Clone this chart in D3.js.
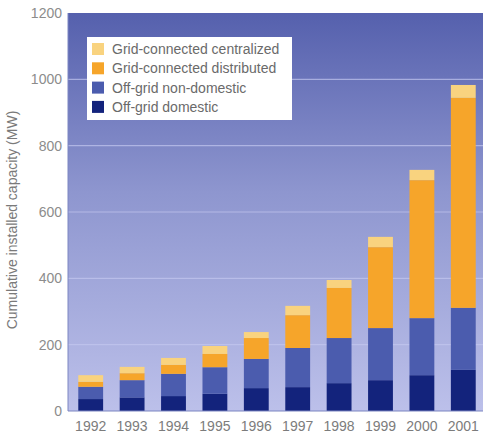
<!DOCTYPE html>
<html>
<head>
<meta charset="utf-8">
<script src="https://cdn.jsdelivr.net/npm/d3@7"></script>
<style>
  body { margin: 0; background: #fff; }
  svg { display: block; font-family: "Liberation Sans", Arial, sans-serif; }
</style>
</head>
<body>
<svg id="chart" width="483" height="435"></svg>
<script>
// values (MW, per segment)
const years = ["1992", "1993", "1994", "1995", "1996", "1997", "1998", "1999", "2000", "2001"];
const offGridDomestic = [36, 41, 45, 52, 69, 72, 84, 93, 108, 124];
const offGridNonDomestic = [37, 52, 67, 80, 88, 118, 136, 157, 172, 187];
const gridDistributed = [15, 21, 27, 40, 63, 99, 151, 244, 416, 633];
const gridCentralized = [20, 19, 21, 24, 18, 28, 24, 31, 31, 39];
const yTicks = [0, 200, 400, 600, 800, 1000, 1200];

const seriesNames = ["Grid-connected centralized", "Grid-connected distributed", "Off-grid non-domestic", "Off-grid domestic"];
const seriesKeys = ["dom", "nondom", "dist", "cent"];
const colors = { dom: "#13237c", nondom: "#4b5cae", dist: "#f6a52a", cent: "#f9d37f" };

const rows = years.map((yr, i) => ({
  year: yr,
  dom: offGridDomestic[i],
  nondom: offGridNonDomestic[i],
  dist: gridDistributed[i],
  cent: gridCentralized[i]
}));

const svg = d3.select("#chart");
const plotLeft = 68, plotRight = 483, plotTop = 13, plotBottom = 411;

const x = d3.scaleBand().domain(years).range([70, 484]).paddingInner(0.4).paddingOuter(0.2);
const y = d3.scaleLinear().domain([0, 1200]).range([plotBottom, plotTop]);

// background gradient
const defs = svg.append("defs");
const grad = defs.append("linearGradient").attr("id", "bg").attr("x1", 0).attr("x2", 0).attr("y1", 0).attr("y2", 1);
grad.append("stop").attr("offset", "0%").attr("stop-color", "#5560ad");
grad.append("stop").attr("offset", "45%").attr("stop-color", "#8e96cf");
grad.append("stop").attr("offset", "100%").attr("stop-color", "#bcc0ea");

svg.append("rect")
  .attr("x", plotLeft).attr("y", plotTop)
  .attr("width", plotRight - plotLeft).attr("height", plotBottom - plotTop)
  .attr("fill", "url(#bg)");

// gridlines
svg.append("g")
  .selectAll("line")
  .data(yTicks.filter(d => d > 0 && d < 1200))
  .enter().append("line")
  .attr("x1", plotLeft).attr("x2", plotRight)
  .attr("y1", d => y(d)).attr("y2", d => y(d))
  .attr("stroke", "#c3c8f0")
  .attr("stroke-opacity", 0.7)
  .attr("stroke-width", 1.2);

// stacked bars
const stack = d3.stack().keys(seriesKeys);
const stacked = stack(rows);

svg.append("g")
  .selectAll("g")
  .data(stacked)
  .enter().append("g")
  .attr("fill", d => colors[d.key])
  .selectAll("rect")
  .data(d => d)
  .enter().append("rect")
  .attr("x", d => x(d.data.year))
  .attr("width", x.bandwidth())
  .attr("y", d => y(d[1]))
  .attr("height", d => y(d[0]) - y(d[1]));

// axis lines
svg.append("line")
  .attr("x1", plotLeft).attr("x2", plotLeft).attr("y1", plotTop).attr("y2", plotBottom)
  .attr("stroke", "#7d86c2").attr("stroke-width", 1);
svg.append("line")
  .attr("x1", plotLeft).attr("x2", plotRight).attr("y1", plotBottom).attr("y2", plotBottom)
  .attr("stroke", "#7d86c2").attr("stroke-width", 1);

// y axis labels
svg.append("g")
  .selectAll("text")
  .data(yTicks)
  .enter().append("text")
  .attr("x", 62)
  .attr("y", d => y(d) + 5)
  .attr("text-anchor", "end")
  .attr("font-size", 14)
  .attr("fill", "#8c8c8c")
  .text(d => d);

// x axis labels
svg.append("g")
  .selectAll("text")
  .data(years)
  .enter().append("text")
  .attr("x", d => x(d) + x.bandwidth() / 2)
  .attr("y", 431)
  .attr("text-anchor", "middle")
  .attr("font-size", 14)
  .attr("fill", "#7c7c7c")
  .text(d => d);

// axis title
svg.append("text")
  .attr("transform", "translate(17,220) rotate(-90)")
  .attr("text-anchor", "middle")
  .attr("font-size", 14)
  .attr("fill", "#7a7a7a")
  .text("Cumulative installed capacity (MW)");

// legend
const legend = svg.append("g");
legend.append("rect")
  .attr("x", 87).attr("y", 37).attr("width", 205).attr("height", 83)
  .attr("fill", "#ffffff");

const legendColors = [colors.cent, colors.dist, colors.nondom, colors.dom];
const items = legend.selectAll("g.item")
  .data(seriesNames)
  .enter().append("g")
  .attr("class", "item")
  .attr("transform", (d, i) => "translate(92," + (43 + i * 19.3) + ")");

items.append("rect")
  .attr("width", 12).attr("height", 12)
  .attr("fill", (d, i) => legendColors[i]);

items.append("text")
  .attr("x", 20).attr("y", 11)
  .attr("font-size", 14)
  .attr("fill", "#6a6a6a")
  .text(d => d);
</script>
</body>
</html>
